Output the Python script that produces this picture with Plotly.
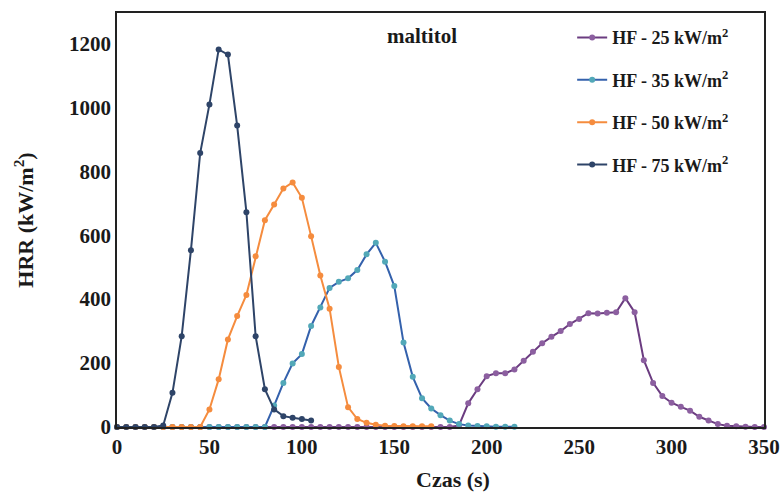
import plotly.graph_objects as go

# ---------------- data ----------------
t_25 = [0, 5, 10, 15, 20, 25, 30, 35, 40, 45, 50, 55, 60, 65, 70, 75, 80, 85, 90, 95,
        100, 105, 110, 115, 120, 125, 130, 135, 140, 145, 150, 155, 160, 165, 170, 175,
        180, 185, 190, 195, 200, 205, 210, 215, 220, 225, 230, 235, 240, 245, 250, 255,
        260, 265, 270, 275, 280, 285, 290, 295, 300, 305, 310, 315, 320, 325, 330, 335,
        340, 345, 350]
hrr_25 = [0, 0, 0, 0, 0, 0, 0, 0, 0, 0, 0, 0, 0, 0, 0, 0, 0, 0, 0, 0,
          0, 0, 0, 0, 0, 0, 0, 0, 0, 0, 0, 0, 0, 0, 0, 0,
          0, 5, 74, 118, 159, 168, 168, 180, 207, 235, 262, 282, 300, 322, 338, 356,
          355, 357, 359, 403, 359, 209, 138, 97, 76, 63, 51, 32, 20, 9, 4, 2,
          1, 0, 0]

t_35 = [0, 5, 10, 15, 20, 25, 30, 35, 40, 45, 50, 55, 60, 65, 70, 75, 80, 85, 90, 95,
        100, 105, 110, 115, 120, 125, 130, 135, 140, 145, 150, 155, 160, 165, 170, 175,
        180, 185, 190, 195, 200, 205, 210, 215]
hrr_35 = [0, 0, 0, 0, 0, 0, 0, 0, 0, 0, 0, 0, 0, 0, 0, 0, 0, 67, 138, 199,
          228, 316, 374, 435, 454, 465, 491, 540, 576, 517, 441, 264, 157, 90, 58, 37,
          20, 9, 5, 3, 2, 1, 1, 1]

t_50 = [0, 5, 10, 15, 20, 25, 30, 35, 40, 45, 50, 55, 60, 65, 70, 75, 80, 85, 90, 95,
        100, 105, 110, 115, 120, 125, 130, 135, 140, 145, 150, 155, 160, 165, 170]
hrr_50 = [0, 0, 0, 0, 0, 0, 0, 0, 0, 0, 55, 149, 274, 347, 413, 534, 647, 696, 746, 765,
          717, 597, 474, 370, 188, 62, 25, 13, 7, 4, 3, 2, 2, 2, 2]

t_75 = [0, 5, 10, 15, 20, 25, 30, 35, 40, 45, 50, 55, 60, 65, 70, 75, 80, 85, 90, 95,
        100, 105]
hrr_75 = [0, 0, 0, 0, 0, 5, 107, 284, 553, 857, 1009, 1181, 1165, 943, 672, 284, 118,
          55, 34, 29, 25, 20]

series_names = ["HF - 25 kW/m<sup>2</sup>", "HF - 35 kW/m<sup>2</sup>",
                "HF - 50 kW/m<sup>2</sup>", "HF - 75 kW/m<sup>2</sup>"]
x_ticks = [0, 50, 100, 150, 200, 250, 300, 350]
y_ticks = [0, 200, 400, 600, 800, 1000, 1200]

# ---------------- styles ----------------
FONT = "Liberation Serif"
styles = [
    dict(line="#6B3C80", marker="#8C5FA0"),
    dict(line="#3461AC", marker="#52A8B8"),
    dict(line="#F58C3E", marker="#F58C3E"),
    dict(line="#2E4468", marker="#2E4468"),
]

fig = go.Figure()
data = [(t_25, hrr_25), (t_35, hrr_35), (t_50, hrr_50), (t_75, hrr_75)]
for i, ((tx, hy), name, st) in enumerate(zip(data, series_names, styles)):
    fig.add_trace(go.Scatter(
        x=tx, y=hy, name=name, mode="lines+markers",
        line=dict(color=st["line"], width=2),
        marker=dict(color=st["marker"], size=6),
        legendgroup=f"g{i}", cliponaxis=False,
    ))

fig.update_layout(
    width=784, height=493,
    margin=dict(l=117, r=20, t=13, b=66),
    plot_bgcolor="white", paper_bgcolor="white",
    font=dict(family=FONT, color="#1a1a1a"),
    showlegend=True,
    legend=dict(
        x=0.7035, y=0.985, xanchor="left", yanchor="top",
        font=dict(family=FONT, size=18, weight="bold", color="#1a1a1a"),
        tracegroupgap=16, bgcolor="rgba(0,0,0,0)", itemwidth=30,
    ),
    annotations=[
        dict(text="<b>maltitol</b>", xref="paper", yref="paper",
             x=(422 - 117) / 647, y=0.945, xanchor="center", yanchor="middle",
             showarrow=False, font=dict(family=FONT, size=21, color="#1a1a1a")),
        dict(text="<b>Czas (s)</b>", xref="paper", yref="paper",
             x=(453 - 117) / 647, y=-0.128, xanchor="center", yanchor="middle",
             showarrow=False, font=dict(family=FONT, size=22, color="#1a1a1a")),
    ],
)

fig.update_xaxes(
    range=[0, 350], tickvals=x_ticks, ticktext=[str(v) for v in x_ticks],
    showgrid=False, zeroline=False, showline=True, linecolor="#222", linewidth=1.5,
    mirror=True, ticks="", automargin=False,
    tickfont=dict(family=FONT, size=21, weight="bold", color="#1a1a1a"),
)
fig.update_yaxes(
    range=[0, 1295], tickvals=y_ticks, ticktext=[str(v) for v in y_ticks],
    showgrid=False, zeroline=False, showline=True, linecolor="#222", linewidth=1.5,
    mirror=True, ticks="", automargin=False,
    tickfont=dict(family=FONT, size=21, weight="bold", color="#1a1a1a"),
    title=dict(text="<b>HRR (kW/m<sup>2</sup>)</b>", font=dict(family=FONT, size=22, color="#1a1a1a"),
               standoff=29),
)

fig.write_html("out.html")
